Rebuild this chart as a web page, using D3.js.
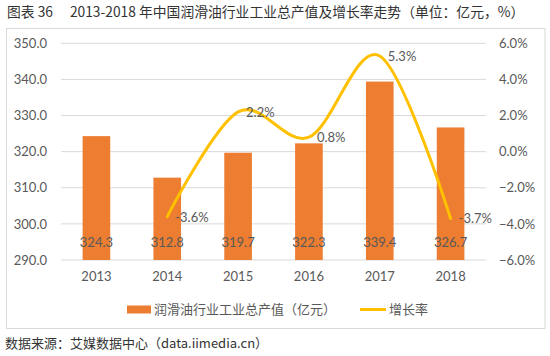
<!DOCTYPE html>
<html><head><meta charset="utf-8">
<script src="https://cdn.jsdelivr.net/npm/d3@7"></script>
<style>
body{margin:0;background:#fff;}
svg{display:block;}
</style></head>
<body><svg id="c" width="550" height="356"></svg>
<script>
const years = ["2013","2014","2015","2016","2017","2018"];
const outputValues = [324.3, 312.8, 319.7, 322.3, 339.4, 326.7];
const growthYears = ["2014","2015","2016","2017","2018"];
const growthRates = [-3.6, 2.2, 0.8, 5.3, -3.7];
const leftTicks = [290, 300, 310, 320, 330, 340, 350];
const rightTicks = [-6, -4, -2, 0, 2, 4, 6];
const titleText = "图表 36\u2003 2013-2018 年中国润滑油行业工业总产值及增长率走势（单位：亿元，%）";
const sourceText = "数据来源：艾媒数据中心（data.iimedia.cn）";
const legendBar = "润滑油行业工业总产值（亿元）";
const legendLine = "增长率";

const svg = d3.select("#c");
const cjk = "'Noto Sans CJK SC','Noto Sans',sans-serif";
const num = "Lato,'Noto Sans CJK SC',sans-serif";
const L = 61, R = 486, T = 43.3, B = 260;

svg.append("text").attr("x", 7).attr("y", 17).attr("font-family", cjk).attr("font-size", 13.8)
  .attr("fill", "#333").text(titleText);

svg.append("rect").attr("x", 6.5).attr("y", 28.5).attr("width", 538.5).attr("height", 300)
  .attr("fill", "none").attr("stroke", "#d9d9d9").attr("stroke-width", 1);

const x = d3.scaleBand().domain(years).range([L, R]).paddingInner(0.61).paddingOuter(0.305);
const yL = d3.scaleLinear().domain([290, 350]).range([B, T]);
const yR = d3.scaleLinear().domain([-6, 6]).range([B, T]);

// grid
svg.append("g").selectAll("line").data(leftTicks).join("line")
  .attr("x1", L).attr("x2", R).attr("y1", d => yL(d)).attr("y2", d => yL(d))
  .attr("stroke", "#d9d9d9").attr("stroke-width", 1);

// left axis
const gl = svg.append("g").attr("transform", `translate(${L - 10},0)`)
  .call(d3.axisLeft(yL).tickValues(leftTicks).tickFormat(d3.format(".1f")).tickSize(0).tickPadding(4));
gl.select(".domain").remove();
gl.selectAll("text").attr("font-family", num).attr("font-size", 13).attr("fill", "#595959");

// right axis
const gr = svg.append("g").attr("transform", `translate(${R + 9},0)`)
  .call(d3.axisRight(yR).tickValues(rightTicks).tickFormat(d => d3.format(".1f")(d) + "%").tickSize(0).tickPadding(4));
gr.select(".domain").remove();
gr.selectAll("text").attr("font-family", num).attr("font-size", 13).attr("fill", "#595959");

// bottom axis
const gb = svg.append("g").attr("transform", `translate(0,${B + 8})`)
  .call(d3.axisBottom(x).tickSize(0).tickPadding(4));
gb.select(".domain").remove();
gb.selectAll("text").attr("font-family", num).attr("font-size", 13).attr("fill", "#595959");

// bars
svg.append("g").selectAll("rect").data(outputValues).join("rect")
  .attr("x", (d, i) => x(years[i])).attr("width", x.bandwidth())
  .attr("y", d => yL(d)).attr("height", d => B - yL(d)).attr("fill", "#ED7D31");

svg.append("g").selectAll("text").data(outputValues).join("text")
  .attr("x", (d, i) => x(years[i]) + x.bandwidth() / 2).attr("y", 247)
  .attr("text-anchor", "middle").attr("font-family", num).attr("font-size", 13)
  .attr("fill", "#595959").text(d => d.toFixed(1));

// line
const cx = yr => x(yr) + x.bandwidth() / 2;
const line = d3.line().x((d, i) => cx(growthYears[i])).y(d => yR(d)).curve(d3.curveCardinal.tension(0));
svg.append("path").datum(growthRates).attr("d", line).attr("fill", "none")
  .attr("stroke", "#FFC000").attr("stroke-width", 3).attr("stroke-linecap", "round");

svg.append("g").selectAll("text").data(growthRates).join("text")
  .attr("x", (d, i) => cx(growthYears[i]) + 8).attr("y", d => yR(d) + 5)
  .attr("font-family", num).attr("font-size", 13).attr("fill", "#595959")
  .text(d => d.toFixed(1) + "%");

// legend
svg.append("rect").attr("x", 127).attr("y", 305.5).attr("width", 24).attr("height", 8).attr("fill", "#ED7D31");
svg.append("text").attr("x", 154).attr("y", 314).attr("font-family", cjk).attr("font-size", 13)
  .attr("fill", "#595959").text(legendBar);
svg.append("line").attr("x1", 360).attr("x2", 386).attr("y1", 309.5).attr("y2", 309.5)
  .attr("stroke", "#FFC000").attr("stroke-width", 3);
svg.append("text").attr("x", 389).attr("y", 314).attr("font-family", cjk).attr("font-size", 13)
  .attr("fill", "#595959").text(legendLine);

svg.append("text").attr("x", 5).attr("y", 348).attr("font-family", cjk).attr("font-size", 13)
  .attr("fill", "#333").text(sourceText);
</script></body></html>
